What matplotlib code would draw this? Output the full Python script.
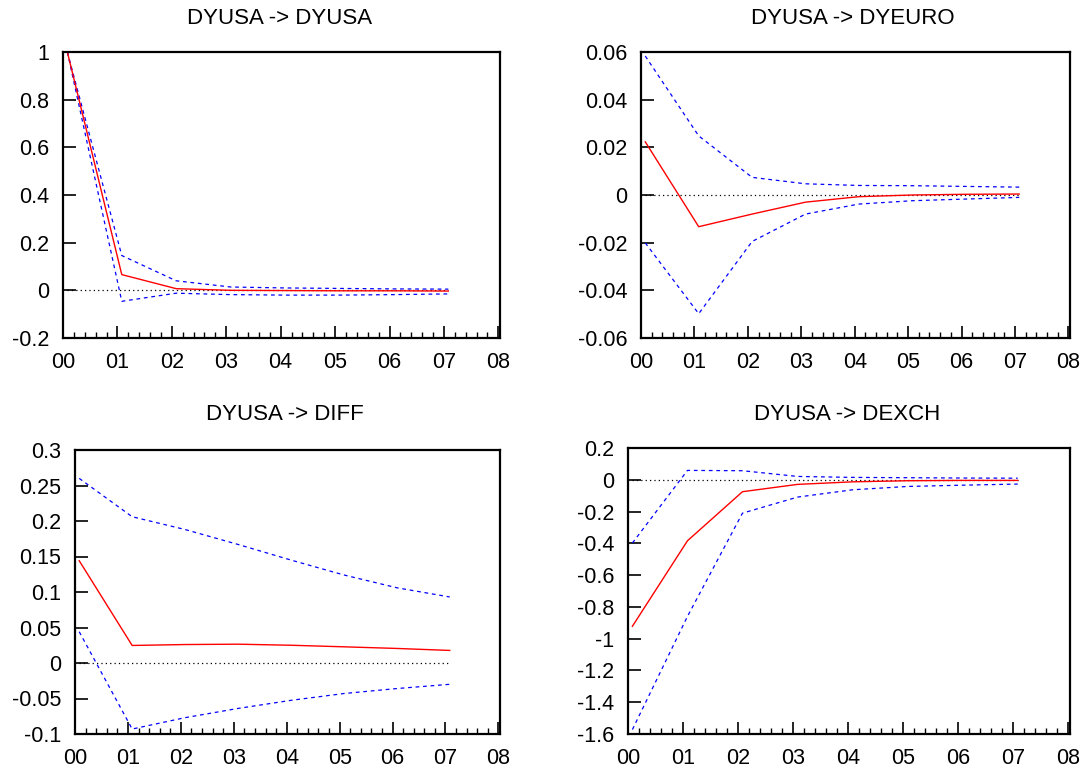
import matplotlib
matplotlib.use("Agg")
import matplotlib.pyplot as plt
from matplotlib.ticker import MultipleLocator, FixedLocator, FuncFormatter

plt.rcParams['font.family'] = ['Liberation Sans', 'DejaVu Sans']

# Impulse horizon (periods after the shock)
periods = [0, 1, 2, 3, 4, 5, 6, 7]
x_labels = ["00", "01", "02", "03", "04", "05", "06", "07", "08"]

titles = ["DYUSA -> DYUSA", "DYUSA -> DYEURO", "DYUSA -> DIFF", "DYUSA -> DEXCH"]

# Responses (point estimate) and confidence bands
resp_dyusa = [1.0, 0.066, 0.007, 0.0, -0.001, -0.002, -0.002, -0.003]
upper_dyusa = [1.0, 0.146, 0.040, 0.014, 0.010, 0.008, 0.006, 0.005]
lower_dyusa = [1.0, -0.046, -0.012, -0.018, -0.020, -0.020, -0.018, -0.015]

resp_dyeuro = [0.0223, -0.0133, -0.0080, -0.0030, -0.0007, 0.0, 0.0003, 0.0004]
upper_dyeuro = [0.0583, 0.0248, 0.0074, 0.0047, 0.0040, 0.0039, 0.0036, 0.0033]
lower_dyeuro = [-0.0201, -0.0498, -0.0195, -0.0080, -0.0038, -0.0024, -0.0017, -0.0010]

resp_diff = [0.144, 0.0247, 0.026, 0.0265, 0.025, 0.0228, 0.0205, 0.0177]
upper_diff = [0.260, 0.206, 0.188, 0.167, 0.145, 0.124, 0.106, 0.093]
lower_diff = [0.044, -0.093, -0.077, -0.064, -0.0526, -0.043, -0.036, -0.030]

resp_dexch = [-0.922, -0.384, -0.075, -0.029, -0.013, -0.006, -0.004, -0.004]
upper_dexch = [-0.398, 0.059, 0.057, 0.021, 0.015, 0.013, 0.011, 0.010]
lower_dexch = [-1.572, -0.860, -0.210, -0.109, -0.063, -0.042, -0.034, -0.027]

panels = [
    (resp_dyusa, upper_dyusa, lower_dyusa, (-0.2, 1.0), 0.2),
    (resp_dyeuro, upper_dyeuro, lower_dyeuro, (-0.06, 0.06), 0.02),
    (resp_diff, upper_diff, lower_diff, (-0.1, 0.3), 0.05),
    (resp_dexch, upper_dexch, lower_dexch, (-1.6, 0.2), 0.2),
]

W, H = 1088, 772
# axes boxes in pixels: left, right, top, bottom
boxes = [(63, 500, 52, 338), (641, 1070, 52, 338),
         (75, 500, 450, 734), (628, 1070, 448, 734)]
title_pos = [(280, 18), (853, 18), (285, 415), (847, 415)]

fig = plt.figure(figsize=(W / 100, H / 100), dpi=100)

shift = 0.08
xs = [p + shift for p in periods]


def fmt_tick(v, pos):
    if abs(v) < 1e-9:
        return "0"
    return "{:g}".format(round(v, 6))


for (resp, up, lo, ylim, step), (l, r, t, b), (tx, ty), title in zip(
        panels, boxes, title_pos, titles):
    ax = fig.add_axes([l / W, 1 - b / H, (r - l) / W, (b - t) / H])
    ax.plot([xs[0], xs[-1]], [0, 0], color="black", lw=0.9,
            linestyle=(0, (1, 2.5)))
    ax.plot(xs, up, color="#0000ff", lw=0.9, linestyle=(0, (3, 3)))
    ax.plot(xs, lo, color="#0000ff", lw=0.9, linestyle=(0, (3, 3)))
    ax.plot(xs, resp, color="#ff0000", lw=1.0)
    ax.set_xlim(0, 8.03)
    ax.set_ylim(*ylim)
    ax.xaxis.set_major_locator(FixedLocator(range(9)))
    ax.set_xticklabels(x_labels)
    ax.xaxis.set_minor_locator(MultipleLocator(0.2))
    ax.yaxis.set_major_locator(MultipleLocator(step))
    ax.yaxis.set_major_formatter(FuncFormatter(fmt_tick))
    ax.tick_params(axis="both", which="both", direction="in",
                   top=False, right=False, labelsize=15.5, colors="black")
    ax.tick_params(axis="both", which="major", length=9, width=1.2, pad=10)
    ax.tick_params(axis="x", which="minor", length=4.5, width=1.0)
    for s in ax.spines.values():
        s.set_linewidth(1.6)
    fig.text(tx / W, 1 - ty / H, title, ha="center", va="center", fontsize=16)

fig.savefig("out.png", dpi=100)
